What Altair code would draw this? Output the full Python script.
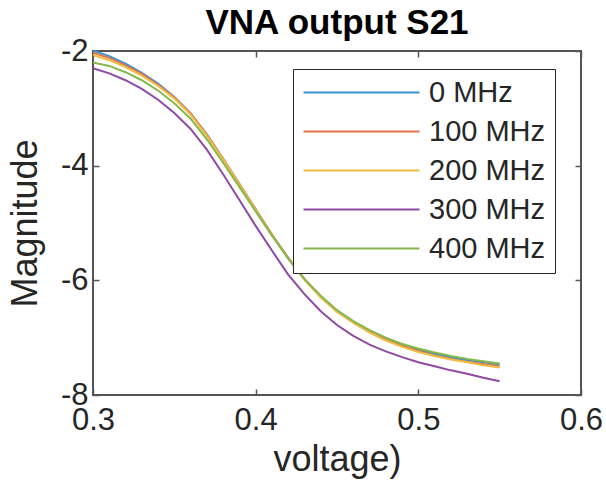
import altair as alt
import pandas as pd

voltage = [0.30, 0.31, 0.32, 0.33, 0.34, 0.35, 0.36, 0.37, 0.38, 0.39, 0.40, 0.41, 0.42,
           0.43, 0.44, 0.45, 0.46, 0.47, 0.48, 0.49, 0.50, 0.51, 0.52, 0.53, 0.54, 0.55]

series_names = ["0 MHz", "100 MHz", "200 MHz", "300 MHz", "400 MHz"]

mag_0 = [-1.99, -2.09, -2.22, -2.38, -2.57, -2.80, -3.09, -3.46, -3.88, -4.32, -4.76, -5.20, -5.61,
         -5.98, -6.28, -6.53, -6.72, -6.88, -7.01, -7.12, -7.21, -7.28, -7.34, -7.39, -7.43, -7.47]
mag_100 = [-2.03, -2.12, -2.25, -2.40, -2.59, -2.81, -3.09, -3.46, -3.88, -4.32, -4.76, -5.20, -5.61,
           -5.98, -6.28, -6.54, -6.74, -6.90, -7.03, -7.14, -7.23, -7.31, -7.37, -7.42, -7.46, -7.50]
mag_200 = [-2.07, -2.16, -2.28, -2.43, -2.61, -2.83, -3.11, -3.48, -3.89, -4.33, -4.77, -5.21, -5.62,
           -5.99, -6.30, -6.55, -6.74, -6.91, -7.05, -7.16, -7.25, -7.32, -7.38, -7.43, -7.48, -7.52]
mag_300 = [-2.30, -2.39, -2.51, -2.66, -2.85, -3.08, -3.36, -3.72, -4.15, -4.60, -5.05, -5.48, -5.90,
           -6.24, -6.54, -6.78, -6.97, -7.12, -7.24, -7.34, -7.43, -7.50, -7.57, -7.63, -7.70, -7.76]
mag_400 = [-2.20, -2.26, -2.37, -2.51, -2.69, -2.91, -3.18, -3.54, -3.95, -4.37, -4.80, -5.22, -5.62,
           -5.98, -6.27, -6.52, -6.71, -6.87, -7.00, -7.11, -7.19, -7.26, -7.32, -7.37, -7.41, -7.45]

colors = ["#3A93D0", "#E0744A", "#EFBC45", "#8F4AA3", "#86B84C"]

x_ticks = [0.3, 0.4, 0.5, 0.6]
y_ticks = [-8, -6, -4, -2]

rows = []
for k, (name, vals) in enumerate(zip(series_names, [mag_0, mag_100, mag_200, mag_300, mag_400])):
    for v, m in zip(voltage, vals):
        rows.append({"voltage": v, "magnitude": m, "series": name, "k": k})
df = pd.DataFrame(rows)

W, H = 488, 344
FONT = "Liberation Sans"
AX = "#555555"
TXT = "#262626"

xscale = alt.Scale(domain=[0.3, 0.6], nice=False, zero=False)
yscale = alt.Scale(domain=[-8, -2], nice=False, zero=False)

color = alt.Color(
    "series:N",
    sort=series_names,
    scale=alt.Scale(domain=series_names, range=colors),
    legend=alt.Legend(
        title=None, orient="none", legendX=200, legendY=18, direction="vertical",
        symbolType="stroke", symbolSize=13456, symbolStrokeWidth=2.2,
        labelFont=FONT, labelFontSize=29, labelColor=TXT, labelOffset=8, labelLimit=300,
        clipHeight=29, rowPadding=9, padding=9,
        strokeColor="#262626", fillColor="white",
    ),
)

lines = alt.Chart(df).mark_line(strokeWidth=2).encode(
    x=alt.X("voltage:Q", scale=xscale, axis=alt.Axis(
        values=x_ticks, format=".1f", title="voltage)", orient="bottom",
        domain=False, ticks=False, grid=False, labelFlush=False,
        labelFont=FONT, labelFontSize=31, labelColor=TXT, labelPadding=10,
        titleFont=FONT, titleFontSize=36, titleFontWeight="normal", titleColor=TXT, titlePadding=7,
    )),
    y=alt.Y("magnitude:Q", scale=yscale, axis=alt.Axis(
        values=y_ticks, labelExpr="'' + datum.value", title="Magnitude", orient="left",
        domain=False, ticks=False, grid=False, labelFlush=False,
        labelFont=FONT, labelFontSize=31, labelColor=TXT, labelPadding=5,
        titleFont=FONT, titleFontSize=36, titleFontWeight="normal", titleColor=TXT, titlePadding=16,
    )),
    color=color,
    detail="k:O",
)

tick_style = dict(labels=False, domain=False, ticks=True, grid=False, tickSize=6,
                  tickColor=AX, tickWidth=1.5, title="")

ticks_a = alt.Chart(df).mark_line(opacity=0).encode(
    x=alt.X("voltage:Q", scale=xscale, axis=alt.Axis(orient="top", offset=-H, values=x_ticks, **tick_style)),
    y=alt.Y("magnitude:Q", scale=yscale, axis=alt.Axis(orient="right", offset=-W, values=y_ticks, **tick_style)),
    detail="series:N",
)
ticks_b = alt.Chart(df).mark_line(opacity=0).encode(
    x=alt.X("voltage:Q", scale=xscale, axis=alt.Axis(orient="bottom", offset=-H, values=x_ticks, **tick_style)),
    y=alt.Y("magnitude:Q", scale=yscale, axis=alt.Axis(orient="left", offset=-W, values=y_ticks, **tick_style)),
    detail="series:N",
)

chart = alt.layer(lines, ticks_a, ticks_b).resolve_axis(
    x="independent", y="independent"
).properties(
    width=W, height=H,
    autosize=alt.AutoSizeParams(type="none"),
    padding={"left": 93, "top": 51, "right": 25, "bottom": 95},
    background="white",
    title=alt.TitleParams(
        "VNA output S21", fontSize=35, fontWeight="bold", font=FONT, color="#000000",
        anchor="middle", frame="group", offset=-6,
    ),
).configure_view(stroke=AX, strokeWidth=2)

chart.save("out.html", embed_options={"renderer": "svg", "actions": False})
